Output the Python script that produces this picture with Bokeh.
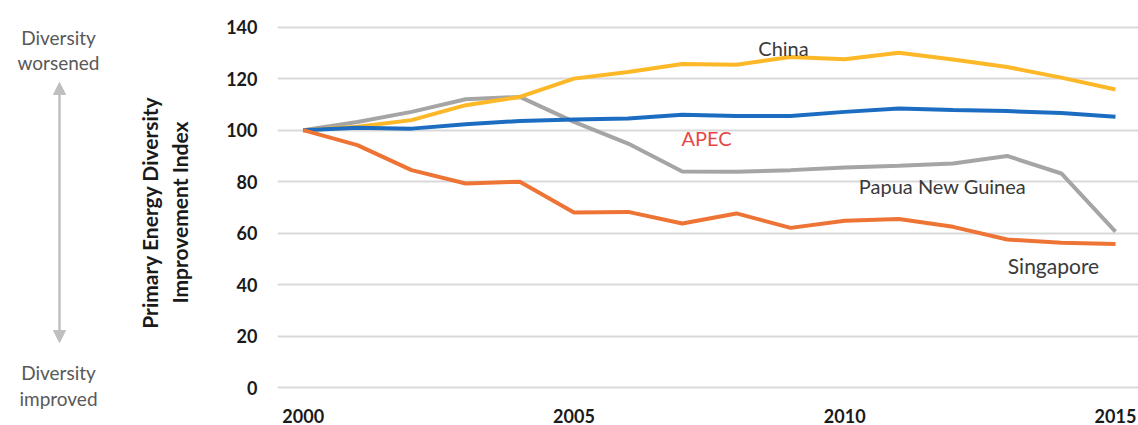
from bokeh.plotting import figure
from bokeh.layouts import row
from bokeh.models import Range1d, Label, Arrow, NormalHead, FixedTicker
from bokeh.embed import file_html
from bokeh.resources import INLINE

years = list(range(2000, 2016))
apec = [100, 100.9, 100.6, 102.3, 103.6, 104.1, 104.5, 106.0, 105.5, 105.5, 107.1, 108.4, 107.8, 107.4, 106.7, 105.2]
china = [100, 101.3, 103.9, 109.7, 112.9, 120.0, 122.6, 125.7, 125.4, 128.4, 127.5, 130.0, 127.4, 124.5, 120.4, 115.8]
png = [100, 103.2, 107.1, 112.0, 112.9, 103.2, 94.8, 84.0, 83.9, 84.5, 85.5, 86.2, 87.1, 90.0, 83.2, 60.6]
singapore = [100, 94.2, 84.5, 79.3, 80.0, 68.1, 68.3, 63.8, 67.7, 62.1, 64.9, 65.5, 62.5, 57.6, 56.3, 55.8]
x_ticks = [2000, 2005, 2010, 2015]
y_ticks = [0, 20, 40, 60, 80, 100, 120, 140]

FONT = "Lato"
H = 425
LW = 215                 # width of the left annotation panel
X0, X1 = 1999.525, 2015.425
Y0, Y1 = -1, 141
W = 1138 - LW
BL, BR, BT, BB = 62, 0, 24, 35
FW = W - BL - BR
FH = H - BT - BB


def px2x(px):
    # page px -> data x of the main chart
    return X0 + (px - LW - BL) * (X1 - X0) / FW


def py2y(py):
    return Y0 + (BT + FH - py) * (Y1 - Y0) / FH


# ---------------- main chart ----------------
p = figure(width=W, height=H, output_backend="svg", toolbar_location=None,
           x_range=Range1d(X0, X1), y_range=Range1d(Y0, Y1),
           min_border_left=BL, min_border_right=BR, min_border_top=BT, min_border_bottom=BB)
p.frame_align = False
p.outline_line_color = None
p.background_fill_color = "white"
p.border_fill_color = "white"

p.xgrid.grid_line_color = None
p.ygrid.grid_line_color = "#D9D9D9"
p.ygrid.grid_line_width = 2
p.yaxis.ticker = FixedTicker(ticks=y_ticks)
p.xaxis.ticker = FixedTicker(ticks=x_ticks)
for ax in (p.xaxis, p.yaxis):
    ax.axis_line_color = None
    ax.major_tick_line_color = None
    ax.minor_tick_line_color = None
    ax.major_tick_out = 0
    ax.major_tick_in = 0
    ax.minor_tick_out = 0
    ax.major_label_text_font = FONT
    ax.major_label_text_font_style = "bold"
    ax.major_label_text_font_size = "18px"
    ax.major_label_text_color = "#1a1a1a"
p.yaxis.major_label_standoff = 20
p.xaxis.major_label_standoff = 18

lw = 4
p.line(years, png, line_color="#A5A5A5", line_width=lw)
p.line(years, china, line_color="#FDB827", line_width=lw)
p.line(years, apec, line_color="#1C6DC2", line_width=lw)
p.line(years, singapore, line_color="#EE7436", line_width=lw)

for txt, px, py, col, fs in [("China", 783, 47, "#3a3a3a", "20px"),
                             ("APEC", 706, 137, "#E8474A", "20px"),
                             ("Papua New Guinea", 942, 185, "#3a3a3a", "20px"),
                             ("Singapore", 1053, 265, "#3a3a3a", "21px")]:
    p.add_layout(Label(x=px2x(px), y=py2y(py), text=txt, text_align="center",
                       text_baseline="middle", text_font=FONT,
                       text_font_size=fs, text_color=col))

# ---------------- left annotation panel ----------------
q = figure(width=LW, height=H, output_backend="svg", toolbar_location=None,
           x_range=Range1d(0, LW), y_range=Range1d(H, 0),
           x_axis_type=None, y_axis_type=None,
           min_border_left=0, min_border_right=0, min_border_top=0, min_border_bottom=0)
q.frame_align = False
q.outline_line_color = None
q.grid.grid_line_color = None
q.background_fill_color = "white"
q.border_fill_color = "white"

side_font = "19px"
for txt, py in [("Diversity", 37), ("worsened", 62), ("Diversity", 372), ("improved", 398)]:
    q.add_layout(Label(x=58, y=py, text=txt, text_align="center",
                       text_baseline="middle", text_font=FONT,
                       text_font_size=side_font, text_color="#595959"))

q.add_layout(Arrow(x_start=59, y_start=342, x_end=59, y_end=82,
                   line_color="#BFBFBF", line_width=2.5,
                   start=NormalHead(size=12, fill_color="#BFBFBF", line_color="#BFBFBF"),
                   end=NormalHead(size=12, fill_color="#BFBFBF", line_color="#BFBFBF")))

for txt, px in [("Primary Energy Diversity", 149), ("Improvement Index", 179)]:
    q.add_layout(Label(x=px, y=212, text=txt, text_align="center",
                       text_baseline="middle", angle=1.5707963, text_font=FONT,
                       text_font_style="bold", text_font_size="21px", text_color="#1a1a1a"))

layout = row(q, p, spacing=0)
open("out.html", "w").write(file_html(layout, INLINE))
